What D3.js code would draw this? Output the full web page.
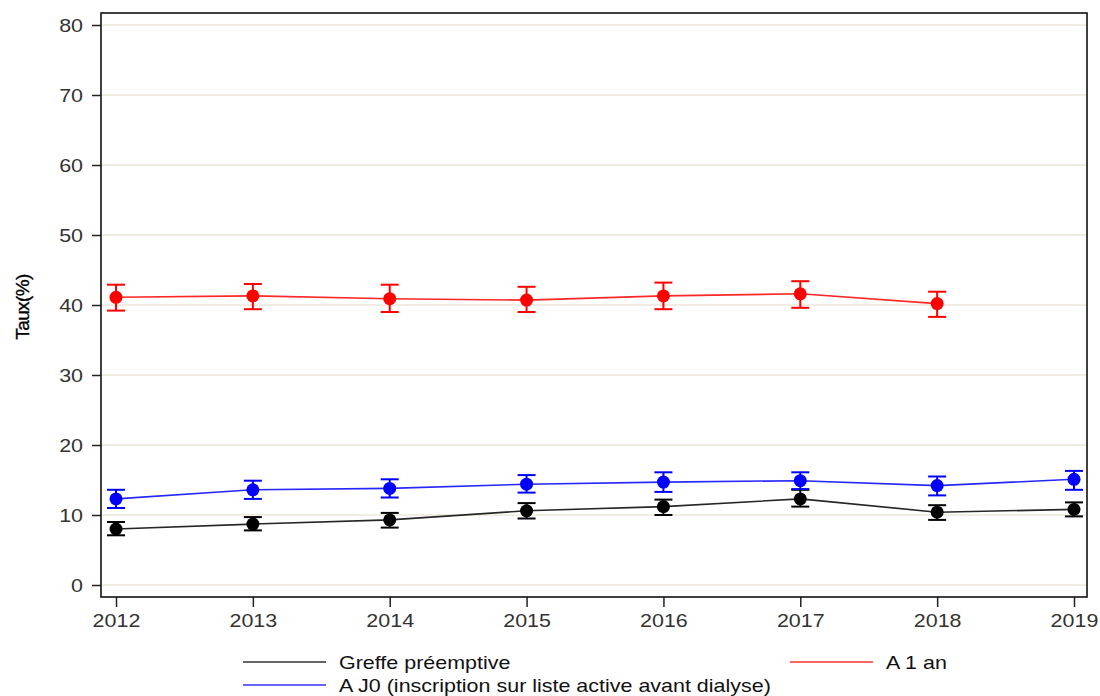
<!DOCTYPE html>
<html><head><meta charset="utf-8">
<script src="https://cdn.jsdelivr.net/npm/d3@7"></script>
<style>body{margin:0;background:#fff}svg{display:block}text{font-family:"Liberation Sans",Arial,sans-serif}</style>
</head><body>
<svg id="c" width="1100" height="696"></svg>
<script>
const years = [2012, 2013, 2014, 2015, 2016, 2017, 2018, 2019];
const yTicks = [0, 10, 20, 30, 40, 50, 60, 70, 80];

const greffeVal = [8.0, 8.7, 9.3, 10.6, 11.2, 12.3, 10.4, 10.8];
const greffeLo  = [7.1, 7.8, 8.2, 9.5, 10.0, 11.2, 9.3, 9.8];
const greffeHi  = [9.0, 9.7, 10.3, 11.7, 12.2, 13.6, 11.4, 11.8];

const j0Val = [12.3, 13.6, 13.8, 14.4, 14.7, 14.9, 14.2, 15.1];
const j0Lo  = [11.0, 12.3, 12.5, 13.2, 13.3, 13.7, 12.8, 13.6];
const j0Hi  = [13.6, 14.9, 15.1, 15.7, 16.1, 16.1, 15.5, 16.3];

const an1Years = [2012, 2013, 2014, 2015, 2016, 2017, 2018];
const an1Val = [41.1, 41.3, 40.9, 40.7, 41.3, 41.6, 40.2];
const an1Lo  = [39.2, 39.4, 39.0, 39.0, 39.4, 39.6, 38.3];
const an1Hi  = [42.9, 43.0, 42.9, 42.6, 43.2, 43.4, 41.9];

const series = [
  {name: "Greffe préemptive", color: "#000000", x: years, v: greffeVal, lo: greffeLo, hi: greffeHi},
  {name: "A 1 an", color: "#ff0000", x: an1Years, v: an1Val, lo: an1Lo, hi: an1Hi},
  {name: "A J0 (inscription sur liste active avant dialyse)", color: "#0000ff", x: years, v: j0Val, lo: j0Lo, hi: j0Hi}
];

const svg = d3.select("#c");
const L = 101, T = 13, R = 1087, B = 597;
const SX = 1.13, FS = 19;
const x = d3.scaleLinear().domain([2012, 2019]).range([116, 1074]);
const y = d3.scaleLinear().domain([0, 80]).range([585, 25]);

// gridlines
svg.append("g").selectAll("line").data(yTicks).join("line")
  .attr("x1", L).attr("x2", R).attr("y1", d => y(d)).attr("y2", d => y(d))
  .attr("stroke", "#e3dcc6").attr("stroke-width", 1.2);

// axes
const yAxis = d3.axisLeft(y).tickValues(yTicks).tickSize(9).tickPadding(9);
const gy = svg.append("g").attr("transform", `translate(${L},0)`).call(yAxis);
gy.select(".domain").remove();
gy.selectAll("line").attr("stroke", "#222").attr("stroke-width", 1.5);
gy.selectAll("text").attr("font-size", FS).attr("fill", "#333")
  .attr("x", -18 / SX).attr("transform", `scale(${SX},1)`);

const xAxis = d3.axisBottom(x).tickValues(years).tickFormat(d3.format("d")).tickSize(10).tickPadding(5);
const gx = svg.append("g").attr("transform", `translate(0,${B})`).call(xAxis);
gx.select(".domain").remove();
gx.selectAll("line").attr("stroke", "#222").attr("stroke-width", 1.5);
gx.selectAll("text").attr("font-size", FS).attr("fill", "#333")
  .attr("dy", null).attr("y", 30).attr("transform", `scale(${SX},1)`);

// frame
svg.append("rect").attr("x", L).attr("y", T).attr("width", R - L).attr("height", B - T)
  .attr("fill", "none").attr("stroke", "#111").attr("stroke-width", 1.6);

// y title
svg.append("text").attr("transform", "translate(29,307) rotate(-90)")
  .attr("text-anchor", "middle").attr("font-size", 19).attr("letter-spacing", -0.6)
  .attr("fill", "#000").attr("stroke", "#000").attr("stroke-width", 0.35).text("Taux(%)");

// series
const line = d3.line().x(d => x(d.x)).y(d => y(d.v));
series.forEach(s => {
  const pts = s.x.map((xx, i) => ({x: xx, v: s.v[i], lo: s.lo[i], hi: s.hi[i]}));
  const g = svg.append("g");
  g.append("path").datum(pts).attr("d", line).attr("fill", "none")
    .attr("stroke", s.color).attr("stroke-width", 1.6).attr("stroke-opacity", 0.85);
  const eb = g.selectAll("g.eb").data(pts).join("g");
  eb.append("line").attr("x1", d => x(d.x)).attr("x2", d => x(d.x))
    .attr("y1", d => y(d.lo)).attr("y2", d => y(d.hi)).attr("stroke", s.color).attr("stroke-width", 2);
  eb.append("line").attr("x1", d => x(d.x) - 9).attr("x2", d => x(d.x) + 9)
    .attr("y1", d => y(d.lo)).attr("y2", d => y(d.lo)).attr("stroke", s.color).attr("stroke-width", 2);
  eb.append("line").attr("x1", d => x(d.x) - 9).attr("x2", d => x(d.x) + 9)
    .attr("y1", d => y(d.hi)).attr("y2", d => y(d.hi)).attr("stroke", s.color).attr("stroke-width", 2);
  eb.append("circle").attr("cx", d => x(d.x)).attr("cy", d => y(d.v)).attr("r", 6.5).attr("fill", s.color);
});

// legend
const legPos = [{lx: 243, ly: 662}, {lx: 790, ly: 662}, {lx: 243, ly: 685}];
series.forEach((s, i) => {
  const p = legPos[i];
  svg.append("line").attr("x1", p.lx).attr("x2", p.lx + 83).attr("y1", p.ly).attr("y2", p.ly)
    .attr("stroke", s.color).attr("stroke-width", 1.6).attr("stroke-opacity", 0.8);
  svg.append("text").attr("transform", `translate(${p.lx + 96},${p.ly + 6.5}) scale(${SX},1)`)
    .attr("font-size", FS).attr("fill", "#111").text(s.name);
});
</script>
</body></html>
